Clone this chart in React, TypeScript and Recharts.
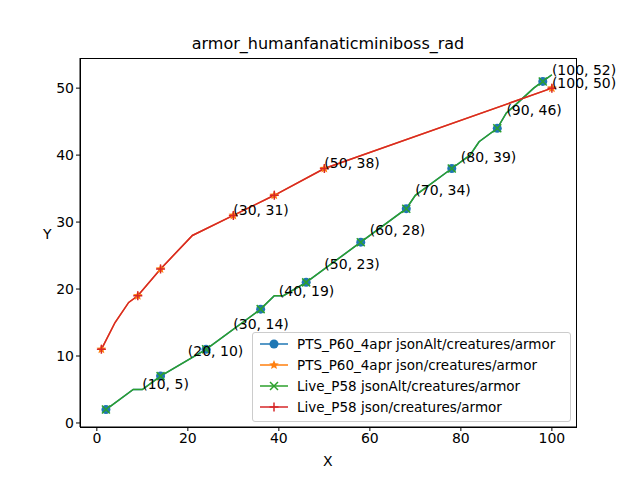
import React from "react";
import { LineChart, Line, XAxis, YAxis, ReferenceDot } from "recharts";

// green / blue path (m = marker drawn)
const liveAltX = [2, 8, 10, 14, 24, 36, 39, 41, 46, 58, 68, 70, 78, 82, 84, 88, 90, 92, 96, 98, 100];
const liveAltY = [2, 5, 5, 7, 11, 17, 19, 19, 21, 27, 32, 34, 38, 40, 42, 44, 46.3, 47.5, 50, 51, 52];
const liveAltMarks = [2, 14, 24, 36, 46, 58, 68, 78, 88, 98];
// red / orange path
const liveX = [1, 4, 7, 9, 14, 21, 30, 39, 50, 100];
const liveY = [11, 15, 18, 19, 23, 28, 31, 34, 38, 50];
const liveMarks = [1, 9, 14, 30, 39, 50, 100];

const notes: [number, number][] = [
  [10, 5], [20, 10], [30, 14], [40, 19], [50, 23], [60, 28], [70, 34], [80, 39], [90, 46],
  [100, 52], [100, 50], [30, 31], [50, 38],
];
const xTicks = [0, 20, 40, 60, 80, 100];
const yTicks = [0, 10, 20, 30, 40, 50];

const altData = liveAltX.map((x, i) => ({ x, y: liveAltY[i], m: liveAltMarks.includes(x) }));
const jsonData = liveX.map((x, i) => ({ x, y: liveY[i], m: liveMarks.includes(x) }));

const FONT = "DejaVu Sans, sans-serif";
const C = { blue: "#1f77b4", orange: "#ff7f0e", green: "#2ca02c", red: "#d62728" };

function star(cx: number, cy: number, r: number) {
  const pts: string[] = [];
  for (let i = 0; i < 10; i++) {
    const a = -Math.PI / 2 + (i * Math.PI) / 5;
    const rr = i % 2 ? r * 0.45 : r;
    pts.push(`${cx + rr * Math.cos(a)},${cy + rr * Math.sin(a)}`);
  }
  return pts.join(" ");
}

const mk = (kind: string) => (p: any) => {
  const { cx, cy, payload, index } = p;
  const k = `${kind}-${index}`;
  if (!payload.m) return <g key={k} />;
  if (kind === "circle") return <circle key={k} cx={cx} cy={cy} r={4.5} fill={C.blue} />;
  if (kind === "star") return <polygon key={k} points={star(cx, cy, 5)} fill={C.orange} />;
  if (kind === "x")
    return (
      <path key={k} d={`M${cx - 4},${cy - 4}L${cx + 4},${cy + 4}M${cx - 4},${cy + 4}L${cx + 4},${cy - 4}`} stroke={C.green} strokeWidth={1.5} />
    );
  return <path key={k} d={`M${cx - 4.5},${cy}L${cx + 4.5},${cy}M${cx},${cy - 4.5}L${cx},${cy + 4.5}`} stroke={C.red} strokeWidth={1.5} />;
};

const legendItems = [
  { name: "PTS_P60_4apr jsonAlt/creatures/armor", color: C.blue, kind: "circle" },
  { name: "PTS_P60_4apr json/creatures/armor", color: C.orange, kind: "star" },
  { name: "Live_P58 jsonAlt/creatures/armor", color: C.green, kind: "x" },
  { name: "Live_P58 json/creatures/armor", color: C.red, kind: "plus" },
];

export default function App() {
  return (
    <div style={{ position: "absolute", left: 0, top: 0, width: 640, height: 480, background: "#fff", fontFamily: FONT }}>
      <div style={{ position: "absolute", top: 34, left: 0, width: 656, textAlign: "center", fontSize: 16 }}>
        armor_humanfanaticminiboss_rad
      </div>
      <div style={{ position: "absolute", top: 453, left: 323, fontSize: 14 }}>X</div>
      <div style={{ position: "absolute", top: 226, left: 43, fontSize: 14 }}>Y</div>
      <LineChart width={640} height={480} data={altData} margin={{ top: 58, right: 64, bottom: 23, left: 40 }}>
        <XAxis type="number" dataKey="x" domain={[-3.7, 105.3]} ticks={xTicks} height={30} allowDataOverflow
          tick={{ fontSize: 14, fill: "#000", fontFamily: FONT }} tickSize={4} stroke="#000" />
        <YAxis type="number" dataKey="y" domain={[-0.6, 54.5]} ticks={yTicks} width={40} allowDataOverflow
          tick={{ fontSize: 14, fill: "#000", fontFamily: FONT }} tickSize={4} stroke="#000" />
        <Line data={altData} dataKey="y" stroke={C.blue} strokeWidth={1.5} dot={mk("circle")} isAnimationActive={false} />
        <Line data={jsonData} dataKey="y" stroke={C.orange} strokeWidth={1.5} dot={mk("star")} isAnimationActive={false} />
        <Line data={altData} dataKey="y" stroke={C.green} strokeWidth={1.5} dot={mk("x")} isAnimationActive={false} />
        <Line data={jsonData} dataKey="y" stroke={C.red} strokeWidth={1.5} dot={mk("plus")} isAnimationActive={false} />
        {notes.map(([x, y], i) => (
          <ReferenceDot key={i} x={x} y={y} r={0} ifOverflow="visible"
            shape={(p: any) => (
              <text x={p.cx} y={p.cy} fontSize={14} fontFamily={FONT} fill="#000">{`(${x}, ${y})`}</text>
            )} />
        ))}
      </LineChart>
      <div style={{ position: "absolute", left: 80, top: 58, width: 495, height: 368, border: "1px solid #000", pointerEvents: "none" }} />
      <div style={{ position: "absolute", left: 252, top: 332, width: 317, height: 88, border: "1px solid #ccc", borderRadius: 3, background: "rgba(255,255,255,0.85)", fontSize: 13.5 }}>
        {legendItems.map((it, i) => (
          <div key={i} style={{ position: "absolute", left: 6, top: 3 + i * 21, display: "flex", alignItems: "center", whiteSpace: "nowrap" }}>
            <svg width={30} height={14} style={{ marginRight: 8 }}>
              <line x1={1} y1={7} x2={29} y2={7} stroke={it.color} strokeWidth={1.5} />
              {it.kind === "circle" && <circle cx={15} cy={7} r={4.5} fill={it.color} />}
              {it.kind === "star" && <polygon points={star(15, 7, 5)} fill={it.color} />}
              {it.kind === "x" && <path d="M11,3L19,11M11,11L19,3" stroke={it.color} strokeWidth={1.5} />}
              {it.kind === "plus" && <path d="M10.5,7L19.5,7M15,2.5L15,11.5" stroke={it.color} strokeWidth={1.5} />}
            </svg>
            {it.name}
          </div>
        ))}
      </div>
    </div>
  );
}
